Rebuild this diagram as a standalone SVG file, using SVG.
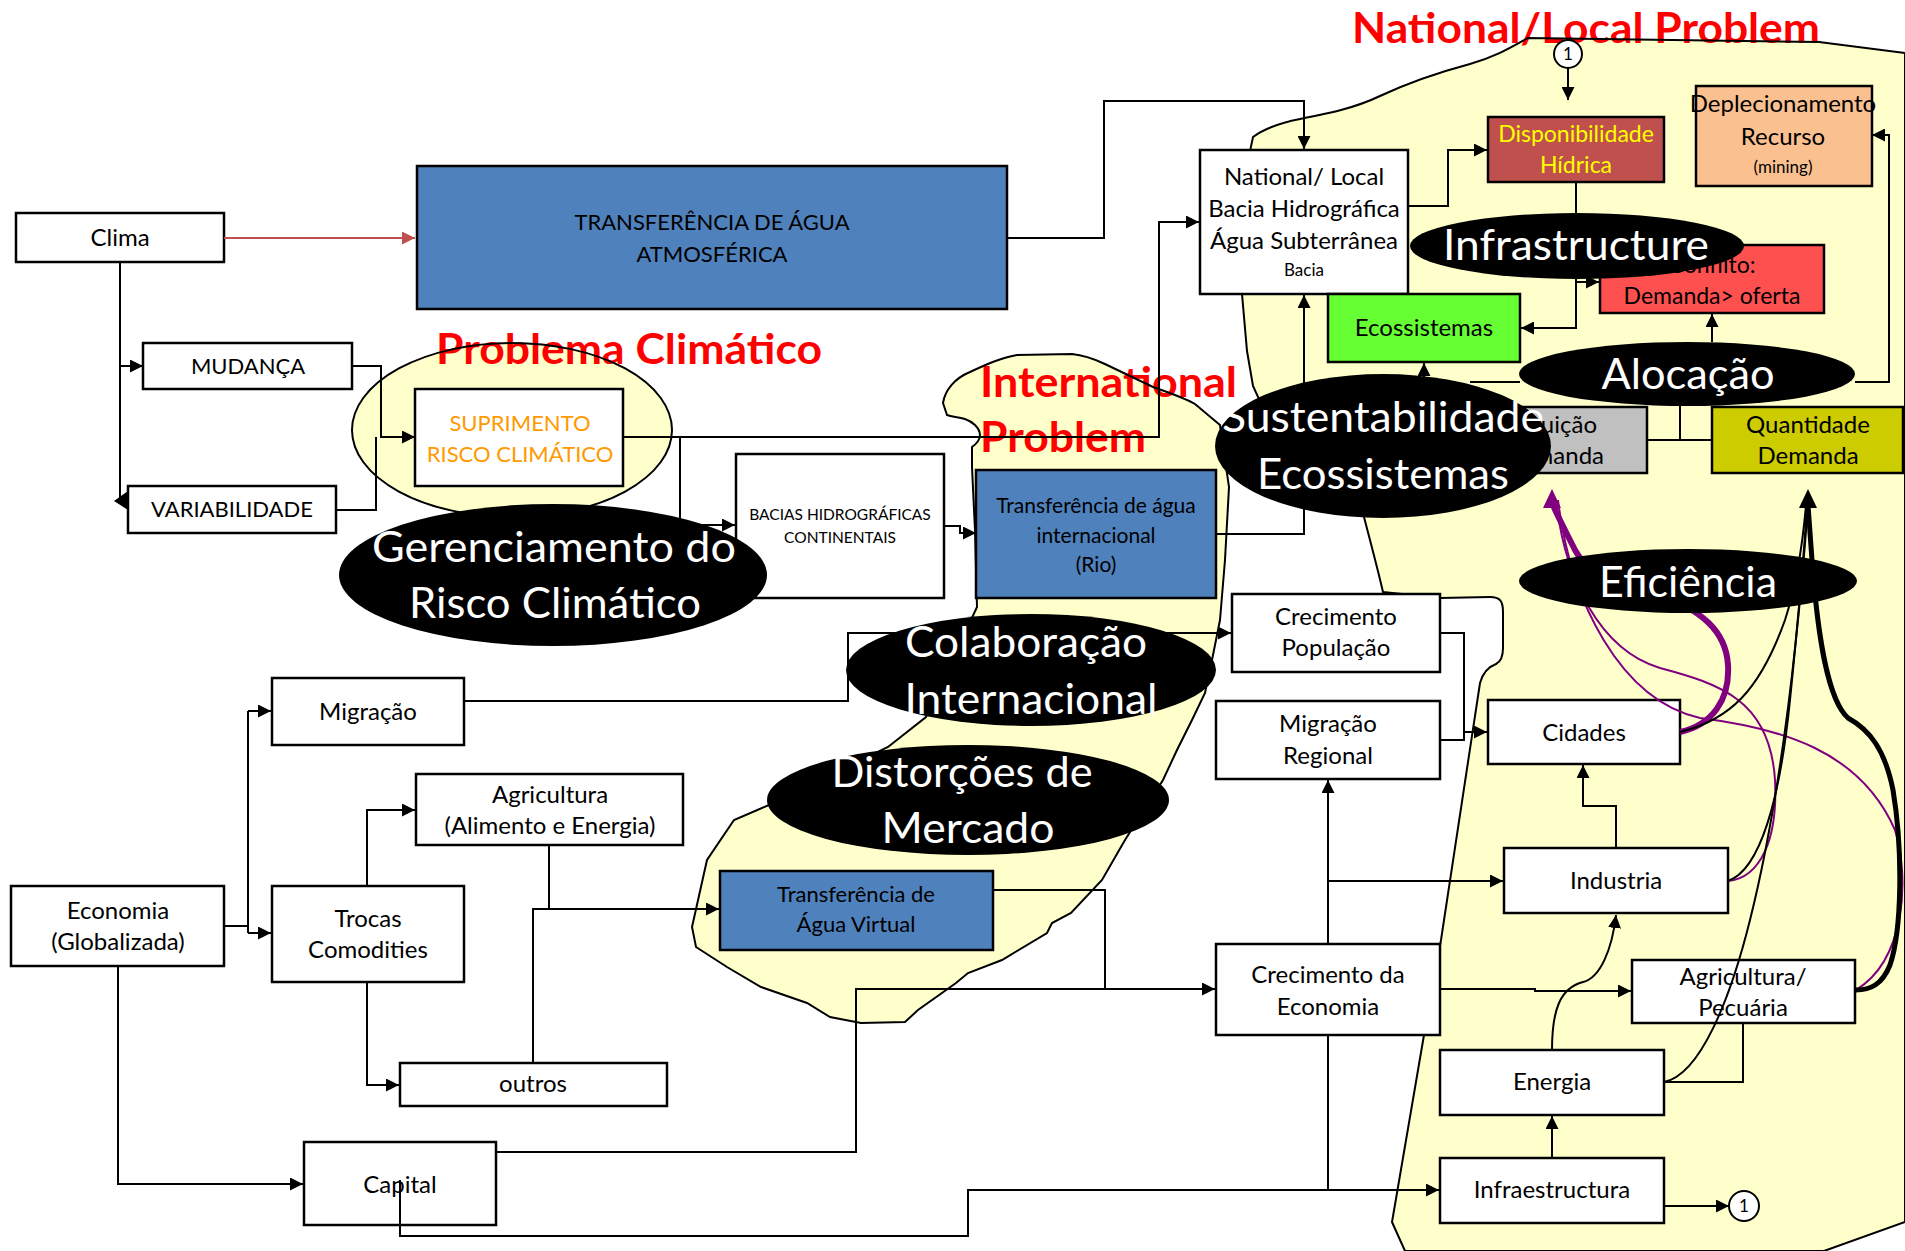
<svg xmlns="http://www.w3.org/2000/svg" width="1905" height="1251" viewBox="0 0 1905 1251">
<defs>
<style>
.b{stroke:#000;stroke-width:2.5}
.w{fill:#fff}
.t{font-family:Lato,"Liberation Sans",sans-serif;font-size:24px;text-anchor:middle;fill:#000}
.s{font-size:17px}
.u{font-size:22px}
.c{fill:none;stroke:#000;stroke-width:2}
.e{fill:#000}
.et{font-family:Lato,"Liberation Sans",sans-serif;font-size:42px;fill:#fff;text-anchor:middle}
.ti{font-family:Lato,"Liberation Sans",sans-serif;font-size:42px;font-weight:bold;fill:#f00}
.blob{fill:#FFFFCC}
.ol{fill:none;stroke:#000;stroke-width:2}
</style>
<marker id="ar" viewBox="0 0 12 12" refX="12" refY="6" markerWidth="13" markerHeight="13" markerUnits="userSpaceOnUse" orient="auto"><path d="M0,0 L12,6 L0,12 z" fill="#000"/></marker>
<marker id="arr" viewBox="0 0 12 12" refX="12" refY="6" markerWidth="13" markerHeight="13" markerUnits="userSpaceOnUse" orient="auto"><path d="M0,0 L12,6 L0,12 z" fill="#C0504D"/></marker>
<path id="natblob" d="M1253,137 C1265,128 1280,123 1300,119 C1330,113 1355,108 1380,96 C1410,82 1440,72 1470,64 C1495,57 1510,48 1528,38 L1819,42 L1905,53 L1905,1222 L1824,1251 L1405,1251 L1392,1222 L1424,1035 L1441,940 L1480,683 C1483,672 1488,667 1496,664 C1502,661 1503,655 1503,648 L1503,612 C1503,601 1500,597 1490,597 L1440,598 L1383,592 C1378,570 1370,540 1364,517 L1258,397 L1253,386 L1247,351 L1242,294 L1246,170 Z"/>
<path id="intblob" d="M943,403 C945,390 955,378 970,372 C985,365 1000,358 1017,355 L1072,354 C1090,356 1100,362 1107,365 L1153,387 C1170,393 1185,398 1195,404 L1220,425 L1229,487 L1225,560 L1220,620 L1212,660 L1205,693 L1192,720 L1177,750 L1163,780 L1125,840 L1102,880 L1071,913 L1052,923 L1047,933 L1002,960 L968,973 L956,983 L918,1010 L905,1022 L861,1023 L830,1017 L807,1003 L761,987 L727,967 L696,947 L692,927 L707,860 L734,820 L769,805 L888,747 L926,717 L977,607 L975,530 L972,467 L972,447 C982,440 982,432 975,425 C965,416 955,418 947,415 Z"/>
</defs>
<rect width="1905" height="1251" fill="#fff"/>

<g id="regions">
<use href="#natblob" class="blob"/>
<use href="#intblob" class="blob"/>
<ellipse cx="512" cy="430" rx="160" ry="87" class="blob"/>
</g>

<g id="titles">
<text class="ti" x="1352" y="43" textLength="468" lengthAdjust="spacingAndGlyphs">National/Local Problem</text>
<text class="ti" x="436" y="364" textLength="386" lengthAdjust="spacingAndGlyphs">Problema Climático</text>
<text class="ti" x="980" y="397" textLength="257" lengthAdjust="spacingAndGlyphs">International</text>
<text class="ti" x="980" y="452" textLength="166" lengthAdjust="spacingAndGlyphs">Problem</text>
</g>

<g id="region-outlines">
<use href="#natblob" class="ol"/>
<use href="#intblob" class="ol"/>
<ellipse cx="512" cy="430" rx="160" ry="87" class="ol"/>
</g>

<g id="n-clima"><rect class="b w" x="16" y="213" width="208" height="49"/><text class="t" x="120" y="246">Clima</text></g>
<g id="n-transf-atm"><rect class="b" fill="#4F81BD" x="417" y="166" width="590" height="143"/><text class="t u" x="712" y="230">TRANSFERÊNCIA DE ÁGUA</text><text class="t u" x="712" y="262">ATMOSFÉRICA</text></g>
<g id="n-mudanca"><rect class="b w" x="143" y="343" width="209" height="46"/><text class="t u" x="248" y="374">MUDANÇA</text></g>
<g id="n-variabilidade"><rect class="b w" x="128" y="486" width="208" height="47"/><text class="t u" x="232" y="517">VARIABILIDADE</text></g>
<g id="n-suprimento"><rect class="b w" x="415" y="389" width="208" height="97"/><text class="t u" x="520" y="431" fill="#FF9900" style="fill:#FF9900">SUPRIMENTO</text><text class="t u" x="520" y="462" style="fill:#FF9900">RISCO CLIMÁTICO</text></g>
<g id="n-bacias"><rect class="b w" x="736" y="454" width="208" height="144"/><text class="t" style="font-size:15.5px" x="840" y="520">BACIAS HIDROGRÁFICAS</text><text class="t" style="font-size:15.5px" x="840" y="543">CONTINENTAIS</text></g>
<g id="n-transf-intl"><rect class="b" fill="#4F81BD" x="976" y="470" width="240" height="128"/><text class="t" style="font-size:21px" x="1096" y="513">Transferência de água</text><text class="t" style="font-size:21px" x="1096" y="543">internacional</text><text class="t" style="font-size:21px" x="1096" y="572">(Rio)</text></g>
<g id="n-national"><rect class="b w" x="1200" y="150" width="208" height="144"/><text class="t" x="1304" y="185">National/ Local</text><text class="t" x="1304" y="217">Bacia Hidrográfica</text><text class="t" x="1304" y="249">Água Subterrânea</text><text class="t s" x="1304" y="276">Bacia</text></g>
<g id="n-disponibilidade"><rect class="b" fill="#C0504D" x="1488" y="117" width="176" height="65"/><text class="t" style="fill:#FFFF00;font-size:23px" x="1576" y="142">Disponibilidade</text><text class="t" style="fill:#FFFF00;font-size:23px" x="1576" y="173">Hídrica</text></g>
<g id="n-deplecionamento"><rect class="b" fill="#FAC090" x="1696" y="86" width="176" height="100"/><text class="t" x="1783" y="112">Deplecionamento</text><text class="t" x="1783" y="145">Recurso</text><text class="t s" x="1783" y="173">(mining)</text></g>
<g id="n-conflito"><rect class="b" fill="#FF5050" x="1600" y="245" width="224" height="68"/><text class="t" style="font-size:23px" x="1712" y="273">Conflito:</text><text class="t" style="font-size:23px" x="1712" y="304">Demanda&gt; oferta</text></g>
<g id="n-ecossistemas"><rect class="b" fill="#66FF33" x="1328" y="294" width="192" height="68"/><text class="t" x="1424" y="336">Ecossistemas</text></g>
<g id="n-diminuicao"><rect class="b" fill="#C0C0C0" x="1470" y="407" width="177" height="66"/><text class="t" style="text-anchor:end" x="1597" y="433">Diminuição</text><text class="t" style="text-anchor:end" x="1604" y="464">Demanda</text></g>
<g id="n-quantidade"><rect class="b" fill="#CCCC00" x="1712" y="407" width="191" height="66"/><text class="t" x="1808" y="433">Quantidade</text><text class="t" x="1808" y="464">Demanda</text></g>
<g id="n-crec-pop"><rect class="b w" x="1232" y="594" width="208" height="78"/><text class="t" x="1336" y="625">Crecimento</text><text class="t" x="1336" y="656">População</text></g>
<g id="n-migr-reg"><rect class="b w" x="1216" y="701" width="224" height="78"/><text class="t" x="1328" y="732">Migração</text><text class="t" x="1328" y="764">Regional</text></g>
<g id="n-cidades"><rect class="b w" x="1488" y="700" width="192" height="64"/><text class="t" x="1584" y="741">Cidades</text></g>
<g id="n-industria"><rect class="b w" x="1504" y="848" width="224" height="65"/><text class="t" x="1616" y="889">Industria</text></g>
<g id="n-crec-econ"><rect class="b w" x="1216" y="944" width="224" height="91"/><text class="t" x="1328" y="983">Crecimento da</text><text class="t" x="1328" y="1015">Economia</text></g>
<g id="n-agri-pec"><rect class="b w" x="1632" y="960" width="223" height="63"/><text class="t" x="1743" y="985">Agricultura/</text><text class="t" x="1743" y="1016">Pecuária</text></g>
<g id="n-energia"><rect class="b w" x="1440" y="1050" width="224" height="65"/><text class="t" x="1552" y="1090">Energia</text></g>
<g id="n-infra"><rect class="b w" x="1440" y="1158" width="224" height="65"/><text class="t" x="1552" y="1198">Infraestructura</text></g>
<g id="n-ref1-top"><circle class="w" cx="1568" cy="54" r="14" stroke="#000" stroke-width="2"/><text class="t s" x="1568" y="60">1</text></g>
<g id="n-ref1-bottom"><circle class="w" cx="1744" cy="1206" r="15" stroke="#000" stroke-width="2"/><text class="t s" x="1744" y="1212">1</text></g>
<g id="n-migracao"><rect class="b w" x="272" y="678" width="192" height="67"/><text class="t" x="368" y="720">Migração</text></g>
<g id="n-agricultura"><rect class="b w" x="416" y="774" width="267" height="71"/><text class="t" x="550" y="803">Agricultura</text><text class="t" x="550" y="834">(Alimento e Energia)</text></g>
<g id="n-trocas"><rect class="b w" x="272" y="886" width="192" height="96"/><text class="t" x="368" y="927">Trocas</text><text class="t" x="368" y="958">Comodities</text></g>
<g id="n-outros"><rect class="b w" x="400" y="1063" width="267" height="43"/><text class="t" x="533" y="1092">outros</text></g>
<g id="n-capital"><rect class="b w" x="304" y="1142" width="192" height="83"/><text class="t" x="400" y="1193">Capital</text></g>
<g id="n-economia"><rect class="b w" x="11" y="886" width="213" height="80"/><text class="t" x="118" y="919">Economia</text><text class="t" x="118" y="950">(Globalizada)</text></g>
<g id="n-tav"><rect class="b" fill="#4F81BD" x="720" y="871" width="273" height="79"/><text class="t" style="font-size:22px" x="856" y="902">Transferência de</text><text class="t" style="font-size:22px" x="856" y="932">Água Virtual</text></g>

<g id="connectors" class="c">
<path d="M224,238 H415" stroke="#C0504D" style="stroke:#C0504D" marker-end="url(#arr)"/>
<path d="M120,262 V500"/>
<path d="M120,366 H143" marker-end="url(#ar)"/>
<polygon points="128,491 128,510 114,501" style="fill:#000;stroke:none"/>
<path d="M352,366 H381 V437 H415" marker-end="url(#ar)"/>
<path d="M336,510 H376 V437"/>
<path d="M623,437 H1159 V222 H1199" marker-end="url(#ar)"/>
<path d="M680,437 V525 H735" marker-end="url(#ar)"/>
<path d="M1007,238 H1104 V101 H1304 V149" marker-end="url(#ar)"/>
<path d="M944,526 H960 V533 H976" marker-end="url(#ar)"/>
<path d="M1216,534 H1304 V295" marker-end="url(#ar)"/>
<path d="M1408,206 H1448 V150 H1487" marker-end="url(#ar)"/>
<path d="M1568,68 V100" marker-end="url(#ar)"/>
<path d="M1576,182 V328 H1521" marker-end="url(#ar)"/>
<path d="M1576,282 H1599" marker-end="url(#ar)"/>
<path d="M1712,342 V314" marker-end="url(#ar)"/>
<path d="M1855,382 H1889 V135 H1872" marker-end="url(#ar)"/>
<path d="M1424,380 V363" marker-end="url(#ar)"/>
<path d="M1680,406 V440 M1647,440 H1712"/>
<path d="M1470,382 H1520"/>
<path d="M224,926 H248 M248,711 V933"/>
<path d="M248,711 H271" marker-end="url(#ar)"/>
<path d="M248,933 H271" marker-end="url(#ar)"/>
<path d="M118,966 V1184 H303" marker-end="url(#ar)"/>
<path d="M367,886 V810 H415" marker-end="url(#ar)"/>
<path d="M367,982 V1085 H399" marker-end="url(#ar)"/>
<path d="M549,845 V909"/>
<path d="M533,1063 V909 H719" marker-end="url(#ar)"/>
<path d="M464,701 H848 V633 H1231" marker-end="url(#ar)"/>
<path d="M992,890 H1105 V989"/>
<path d="M496,1152 H856 V989 H1215" marker-end="url(#ar)"/>
<path d="M400,1180 V1236 H968 V1190 H1439" marker-end="url(#ar)"/>
<path d="M1328,1035 V1190"/>
<path d="M1328,944 V780" marker-end="url(#ar)"/>
<path d="M1328,881 H1503" marker-end="url(#ar)"/>
<path d="M1440,989 H1535 V991 H1631" marker-end="url(#ar)"/>
<path d="M1440,633 H1464 V740 H1440"/>
<path d="M1464,732 H1487" marker-end="url(#ar)"/>
<path d="M1616,848 V806 H1583 V765" marker-end="url(#ar)"/>
<path d="M1552,1050 C1552,1010 1560,988 1583,982 C1600,978 1612,950 1616,915" marker-end="url(#ar)"/>
<path d="M1664,1082 H1743 V1023"/>
<path d="M1552,1157 V1116" marker-end="url(#ar)"/>
<path d="M1664,1206 H1729" marker-end="url(#ar)"/>
</g>

<g id="efficiency-links" fill="none">
<path d="M1556,500 C1565,580 1600,650 1660,668 C1720,684 1770,700 1775,780 C1778,840 1760,878 1728,881" stroke="#800080" stroke-width="2"/>
<path d="M1558,500 C1570,600 1620,700 1700,718 C1780,728 1860,750 1895,830 C1910,880 1905,960 1856,990" stroke="#800080" stroke-width="2"/>
<path d="M1680,732 C1712,725 1730,700 1728,665 C1726,630 1700,610 1660,595 C1610,580 1585,570 1575,550 C1565,530 1557,515 1553,505" stroke="#800080" stroke-width="6"/>
<polygon points="1552,489 1543,508 1561,508" fill="#800080"/>
<path d="M1680,732 C1730,720 1760,690 1785,620 C1798,580 1803,540 1806,505" stroke="#000" stroke-width="2"/>
<path d="M1728,881 C1760,870 1780,800 1790,700 C1798,620 1804,560 1807,505" stroke="#000" stroke-width="2"/>
<path d="M1664,1082 C1700,1075 1730,1000 1750,920 C1775,820 1795,680 1808,505" stroke="#000" stroke-width="2"/>
<path d="M1856,990 C1870,990 1882,985 1890,965 C1902,930 1903,850 1893,790 C1885,750 1870,730 1848,718 C1828,700 1818,640 1812,560 L1808,505" stroke="#000" stroke-width="5"/>
<polygon points="1808,489 1799,508 1817,508" fill="#000"/>
</g>

<g id="n-gerenciamento"><ellipse class="e" cx="553" cy="575" rx="214" ry="71"/><text class="et" x="554" y="562" textLength="364" lengthAdjust="spacingAndGlyphs">Gerenciamento do</text><text class="et" x="555" y="618" textLength="292" lengthAdjust="spacingAndGlyphs">Risco Climático</text></g>
<g id="n-colaboracao"><ellipse class="e" cx="1031" cy="670" rx="185" ry="56"/><text class="et" x="1026" y="657" textLength="242" lengthAdjust="spacingAndGlyphs">Colaboração</text><text class="et" x="1031" y="714" textLength="253" lengthAdjust="spacingAndGlyphs">Internacional</text></g>
<g id="n-distorcoes"><ellipse class="e" cx="968" cy="800" rx="201" ry="55"/><text class="et" x="962" y="787" textLength="261" lengthAdjust="spacingAndGlyphs">Distorções de</text><text class="et" x="968" y="843" textLength="173" lengthAdjust="spacingAndGlyphs">Mercado</text></g>
<g id="n-sustentabilidade"><ellipse class="e" cx="1383" cy="446" rx="168" ry="72"/><text class="et" x="1383" y="432" textLength="322" lengthAdjust="spacingAndGlyphs">Sustentabilidade</text><text class="et" x="1383" y="489" textLength="252" lengthAdjust="spacingAndGlyphs">Ecossistemas</text></g>
<g id="n-infrastructure"><ellipse class="e" cx="1577" cy="246" rx="167" ry="33"/><text class="et" x="1576" y="260" textLength="266" lengthAdjust="spacingAndGlyphs">Infrastructure</text></g>
<g id="n-alocacao"><ellipse class="e" cx="1687" cy="374" rx="168" ry="32"/><text class="et" x="1688" y="389" textLength="173" lengthAdjust="spacingAndGlyphs">Alocação</text></g>
<g id="n-eficiencia"><ellipse class="e" cx="1688" cy="581" rx="169" ry="32"/><text class="et" x="1688" y="597" textLength="178" lengthAdjust="spacingAndGlyphs">Eficiência</text></g>
</svg>
